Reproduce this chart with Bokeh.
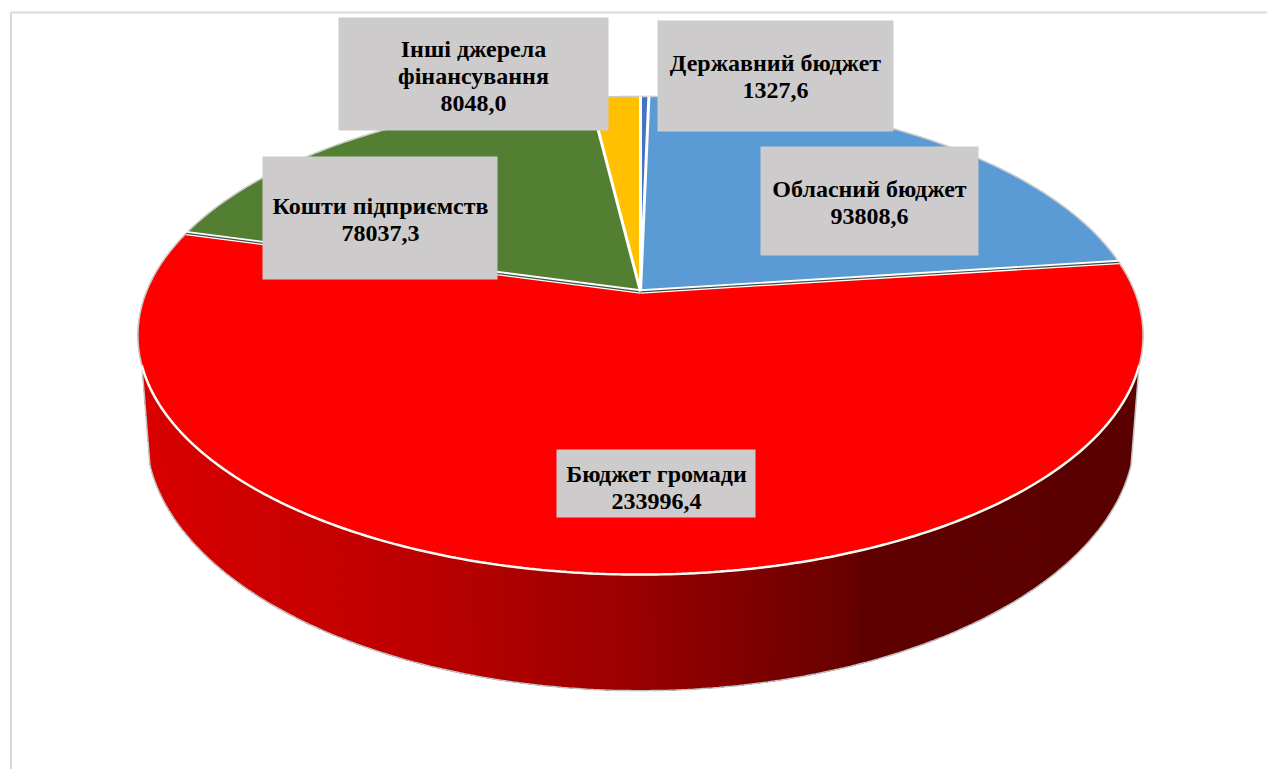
import numpy as np
from bokeh.embed import file_html
from bokeh.models import Range1d
from bokeh.plotting import figure
from bokeh.resources import INLINE
from bokeh.core.properties import value

categories = ["Державний бюджет", "Обласний бюджет", "Бюджет громади", "Кошти підприємств", "Інші джерела фінансування"]
values = [1327.6, 93808.6, 233996.4, 78037.3, 8048.0]
slice_colors = ["#4472C4", "#5B9BD5", "#FF0000", "#527F31", "#FFC000"]

label_lines = [["Державний бюджет"], ["Обласний бюджет"], ["Бюджет громади"], ["Кошти підприємств"], ["Інші джерела", "фінансування"]]
box_left = [657, 760, 556, 262, 338]
box_right = [893, 978, 755, 497, 608]
box_top = [20, 146, 449, 156, 17]
box_bottom = [131, 255, 517, 279, 130]
text_x = [775, 869, 656, 380, 473]
text_y0 = [62, 188.5, 473, 205, 48]

# perspective disc model
CX, CY, K, A, B = 640.0, 291.0, 0.184, 494.0, 231.0
A2, B2, Y2 = 486.0, 249.0, 385.0
SIDE_START, SIDE_END = 107.6, 252.4

def top_xy(t):
    t = np.radians(t)
    d = 1 + K * np.cos(t)
    return CX + A * np.sin(t) / d, CY - B * np.cos(t) / d

def low_xy(t):
    t = np.radians(t)
    d = 1 + K * np.cos(t)
    return CX + A2 * np.sin(t) / d, Y2 - B2 * np.cos(t) / d

def side_color(x):
    r = np.interp(x, [140, 400, 640, 850, 860, 1145], [218, 190, 152, 104, 94, 90])
    return "#%02x0000" % int(round(r))

p = figure(width=1267, height=769, output_backend="svg", toolbar_location=None,
           x_range=Range1d(0, 1267), y_range=Range1d(769, 0),
           x_axis_type=None, y_axis_type=None, min_border=0)
p.grid.visible = False
p.outline_line_color = None
p.background_fill_color = "white"
p.border_fill_color = "white"

# frame
p.line([1267, 10.5, 10.5], [12, 12, 769], line_color="#DADADA", line_width=2)

# side wall: overlapping strips painted right to left so no seams show
edges = np.linspace(SIDE_START, SIDE_END, 161)
xs, ys, cols = [], [], []
for a, b in zip(edges[:-1], edges[1:]):
    lx0, ly0 = low_xy(a); lx1, ly1 = low_xy(b)
    mid = np.linspace(a, SIDE_END, 60)
    tmx, tmy = top_xy(mid)
    lmx, lmy = low_xy(mid)
    xs.append([*tmx, *lmx[::-1]]); ys.append([*tmy, *lmy[::-1]])
    cols.append(side_color((lx0 + lx1) / 2))
p.patches(xs, ys, fill_color=cols, line_color=None)

lt = np.linspace(SIDE_START, SIDE_END, 240)
lx, ly = low_xy(lt)
tsx0, tsy0 = top_xy(SIDE_START); tsx1, tsy1 = top_xy(SIDE_END)
p.line([tsx0, *lx, tsx1], [tsy0, *ly, tsy1], line_color="#C4C4C4", line_width=1.5)

# top slices
total = sum(values)
cuts = np.concatenate([[0], np.cumsum(values) / total * 360])
for i, col in enumerate(slice_colors):
    arc = np.linspace(cuts[i], cuts[i + 1], 120)
    ax, ay = top_xy(arc)
    p.patch([CX, *ax], [CY, *ay], fill_color=col, line_color=col, line_width=0.5)
    p.line(ax, ay, line_color="#CBCBCB", line_width=1.5)

# white rim between the top and the wall
rim = np.linspace(SIDE_START, SIDE_END, 240)
rx, ry = top_xy(rim)
p.line(rx, ry, line_color="#FBFBF5", line_width=2.5)

# slice separators
for i in range(len(values)):
    ex, ey = top_xy(cuts[i])
    is_red_edge = i in (2, 3)
    p.line([CX, ex], [CY, ey], line_color="white", line_width=4.4 if is_red_edge else 3)
    if is_red_edge:
        p.line([CX, ex], [CY + 0.3, ey + 0.3], line_color="#3F4F45", line_width=1.2)

# label boxes
p.quad(left=box_left, right=box_right, top=box_top, bottom=box_bottom,
       fill_color="#CDCBCC", line_color=None)

# label texts
tx, ty, tt = [], [], []
for i, lines in enumerate(label_lines):
    all_lines = lines + [f"{values[i]:.1f}".replace(".", ",")]
    for j, s in enumerate(all_lines):
        tx.append(text_x[i]); ty.append(text_y0[i] + j * 27.5); tt.append(s)
p.text(tx, ty, text=tt, text_font=value("Liberation Serif"), text_font_style="bold",
       text_font_size="24px", text_color="#000000", text_align="center", text_baseline="middle")

open("out.html", "w").write(file_html(p, INLINE))
